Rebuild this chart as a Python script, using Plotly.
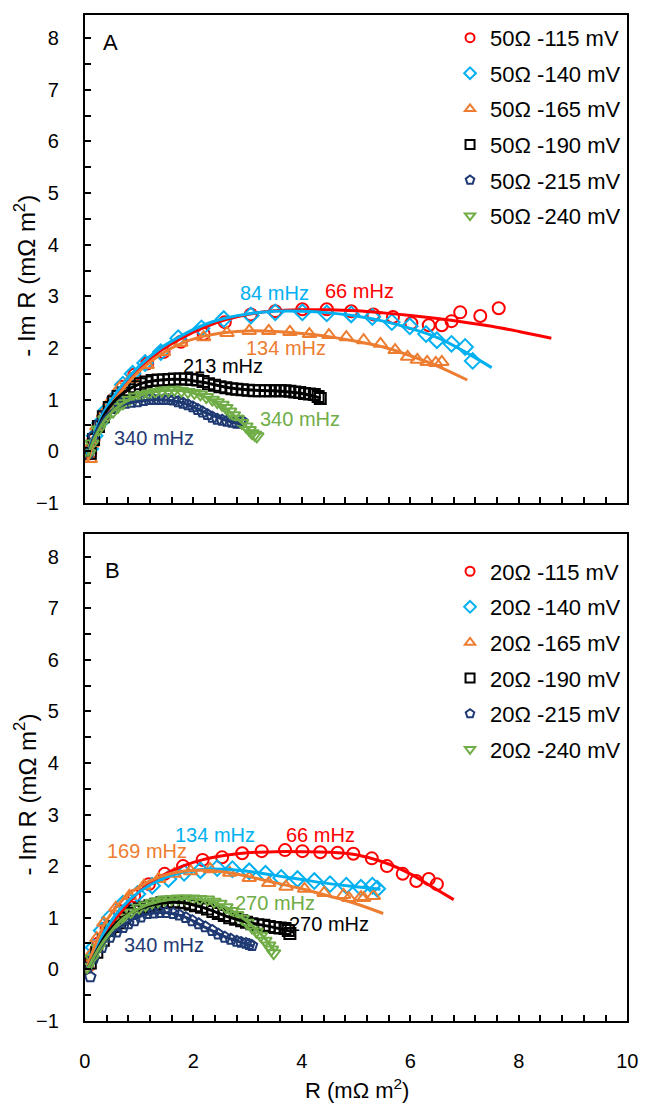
import plotly.graph_objects as go

# ---------------- Panel A (50 ohm) ----------------
A_labels = ["50Ω -115 mV", "50Ω -140 mV", "50Ω -165 mV", "50Ω -190 mV", "50Ω -215 mV", "50Ω -240 mV"]

A115_x = [0.10, 0.16, 0.25, 0.37, 0.52, 0.70, 0.91, 1.15, 1.45, 1.77, 2.19, 2.58, 3.06, 3.51, 4.01, 4.46, 4.91, 5.32, 5.68, 6.02, 6.34, 6.58, 6.76, 6.92, 7.29, 7.63]
A115_y = [-0.04, 0.23, 0.48, 0.73, 1.00, 1.25, 1.48, 1.70, 1.92, 2.12, 2.27, 2.50, 2.65, 2.71, 2.75, 2.75, 2.71, 2.65, 2.60, 2.48, 2.44, 2.44, 2.52, 2.69, 2.62, 2.77]
A115_fx = [0.05, 0.2, 0.4, 0.7, 1.0, 1.4, 1.8, 2.2, 2.6, 3.0, 3.5, 4.0, 4.5, 5.0, 5.5, 6.0, 6.5, 7.0, 7.5, 8.0, 8.6]
A115_fy = [-0.15, 0.35, 0.80, 1.25, 1.60, 1.95, 2.20, 2.40, 2.55, 2.65, 2.72, 2.74, 2.74, 2.72, 2.68, 2.63, 2.57, 2.50, 2.42, 2.32, 2.19]

A140_x = [0.10, 0.18, 0.28, 0.40, 0.56, 0.70, 0.88, 1.11, 1.40, 1.72, 2.15, 2.56, 3.06, 3.51, 4.01, 4.46, 4.91, 5.30, 5.66, 5.99, 6.29, 6.49, 6.76, 7.01, 7.15]
A140_y = [0.05, 0.30, 0.55, 0.80, 1.04, 1.29, 1.50, 1.71, 1.92, 2.19, 2.38, 2.56, 2.63, 2.69, 2.69, 2.67, 2.65, 2.60, 2.50, 2.42, 2.27, 2.15, 2.08, 2.02, 1.75]
A140_fx = [0.05, 0.2, 0.4, 0.7, 1.0, 1.4, 1.8, 2.2, 2.6, 3.0, 3.5, 4.0, 4.5, 5.0, 5.5, 6.0, 6.5, 7.0, 7.5]
A140_fy = [-0.10, 0.40, 0.85, 1.30, 1.65, 2.00, 2.25, 2.45, 2.58, 2.66, 2.71, 2.71, 2.68, 2.62, 2.52, 2.38, 2.20, 1.93, 1.62]

A165_x = [0.10, 0.13, 0.22, 0.34, 0.46, 0.64, 0.84, 1.15, 1.45, 1.77, 2.19, 2.62, 3.03, 3.39, 3.78, 4.14, 4.50, 4.82, 5.14, 5.45, 5.72, 5.95, 6.13, 6.31, 6.47, 6.58]
A165_y = [-0.15, 0.15, 0.48, 0.73, 0.96, 1.23, 1.40, 1.67, 1.92, 2.10, 2.21, 2.29, 2.33, 2.33, 2.31, 2.27, 2.25, 2.21, 2.15, 2.08, 1.96, 1.83, 1.77, 1.73, 1.71, 1.73]
A165_fx = [0.05, 0.2, 0.4, 0.7, 1.0, 1.4, 1.8, 2.2, 2.6, 3.0, 3.5, 4.0, 4.5, 5.0, 5.5, 6.0, 6.5, 7.05]
A165_fy = [-0.20, 0.30, 0.75, 1.20, 1.55, 1.88, 2.10, 2.23, 2.30, 2.33, 2.32, 2.28, 2.22, 2.13, 2.02, 1.85, 1.65, 1.38]

A190_x = [0.10, 0.16, 0.25, 0.34, 0.45, 0.53, 0.61, 0.72, 0.82, 0.92, 1.02, 1.13, 1.24, 1.35, 1.45, 1.55, 1.65, 1.76, 1.86, 1.97, 2.08, 2.18, 2.28, 2.39, 2.49, 2.60, 2.71, 2.80, 2.90, 3.01, 3.12, 3.22, 3.33, 3.42, 3.51, 3.60, 3.69, 3.78, 3.87, 3.96, 4.05, 4.14, 4.23, 4.30, 4.34]
A190_y = [-0.04, 0.23, 0.48, 0.67, 0.85, 0.96, 1.06, 1.13, 1.19, 1.25, 1.31, 1.34, 1.37, 1.38, 1.38, 1.39, 1.40, 1.40, 1.40, 1.39, 1.38, 1.35, 1.31, 1.28, 1.25, 1.23, 1.21, 1.20, 1.19, 1.18, 1.17, 1.17, 1.17, 1.17, 1.17, 1.17, 1.17, 1.16, 1.15, 1.14, 1.12, 1.11, 1.10, 1.06, 1.02]
A190_fx = [0.05, 0.2, 0.4, 0.7, 1.0, 1.4, 1.8, 2.2, 2.6, 3.0, 3.5, 4.0, 4.35]
A190_fy = [-0.10, 0.35, 0.78, 1.12, 1.30, 1.38, 1.39, 1.33, 1.24, 1.19, 1.17, 1.12, 1.03]

A215_x = [0.07, 0.16, 0.28, 0.40, 0.49, 0.57, 0.66, 0.75, 0.86, 0.97, 1.08, 1.18, 1.27, 1.36, 1.45, 1.54, 1.63, 1.72, 1.81, 1.90, 1.99, 2.08, 2.17, 2.26, 2.35, 2.44, 2.53, 2.62, 2.71, 2.80, 2.86, 2.90]
A215_y = [-0.04, 0.29, 0.54, 0.73, 0.83, 0.90, 0.92, 0.93, 0.95, 0.96, 0.98, 1.00, 1.00, 1.00, 1.00, 1.00, 0.99, 0.96, 0.93, 0.90, 0.86, 0.81, 0.76, 0.71, 0.66, 0.62, 0.60, 0.58, 0.56, 0.54, 0.55, 0.58]
A215_fx = [0.05, 0.2, 0.4, 0.7, 1.0, 1.4, 1.8, 2.2, 2.6, 2.9]
A215_fy = [-0.10, 0.35, 0.70, 0.90, 0.97, 1.00, 0.94, 0.76, 0.60, 0.52]

A240_x = [0.07, 0.13, 0.25, 0.37, 0.52, 0.61, 0.70, 0.82, 0.93, 1.05, 1.18, 1.30, 1.42, 1.54, 1.65, 1.78, 1.90, 2.02, 2.13, 2.24, 2.35, 2.44, 2.53, 2.60, 2.67, 2.74, 2.81, 2.89, 2.97, 3.03, 3.08, 3.13, 3.17]
A240_y = [-0.04, 0.15, 0.42, 0.62, 0.77, 0.86, 0.93, 1.00, 1.06, 1.09, 1.12, 1.15, 1.17, 1.18, 1.19, 1.17, 1.15, 1.13, 1.10, 1.05, 1.00, 0.95, 0.90, 0.84, 0.77, 0.70, 0.63, 0.55, 0.48, 0.41, 0.35, 0.32, 0.29]
A240_fx = [0.05, 0.2, 0.4, 0.7, 1.0, 1.4, 1.8, 2.2, 2.6, 2.9, 3.15]
A240_fy = [-0.10, 0.30, 0.65, 0.93, 1.08, 1.17, 1.17, 1.06, 0.82, 0.55, 0.30]

# ---------------- Panel B (20 ohm) ----------------
B_labels = ["20Ω -115 mV", "20Ω -140 mV", "20Ω -165 mV", "20Ω -190 mV", "20Ω -215 mV", "20Ω -240 mV"]

B115_x = [0.04, 0.13, 0.25, 0.40, 0.64, 0.91, 1.18, 1.47, 1.81, 2.17, 2.53, 2.90, 3.26, 3.69, 4.01, 4.34, 4.66, 4.95, 5.29, 5.57, 5.86, 6.11, 6.34, 6.49]
B115_y = [0.04, 0.23, 0.50, 0.80, 1.13, 1.42, 1.65, 1.85, 2.00, 2.12, 2.17, 2.25, 2.29, 2.31, 2.29, 2.27, 2.26, 2.24, 2.15, 2.00, 1.85, 1.71, 1.75, 1.65]
B115_fx = [0.05, 0.2, 0.4, 0.7, 1.0, 1.4, 1.8, 2.2, 2.6, 3.0, 3.5, 4.0, 4.5, 5.0, 5.5, 6.0, 6.4, 6.8]
B115_fy = [0.00, 0.35, 0.75, 1.15, 1.50, 1.80, 2.00, 2.13, 2.21, 2.26, 2.28, 2.28, 2.27, 2.22, 2.08, 1.85, 1.60, 1.35]

B140_x = [0.07, 0.16, 0.31, 0.46, 0.70, 0.97, 1.24, 1.54, 1.83, 2.13, 2.44, 2.72, 3.03, 3.33, 3.62, 3.92, 4.23, 4.52, 4.82, 5.09, 5.30, 5.39]
B140_y = [0.17, 0.42, 0.75, 1.00, 1.27, 1.46, 1.62, 1.75, 1.87, 1.92, 1.96, 1.94, 1.90, 1.85, 1.77, 1.75, 1.71, 1.65, 1.62, 1.58, 1.62, 1.56]
B140_fx = [0.05, 0.2, 0.4, 0.7, 1.0, 1.4, 1.8, 2.2, 2.6, 3.0, 3.5, 4.0, 4.5, 5.0, 5.45]
B140_fy = [0.00, 0.40, 0.80, 1.22, 1.50, 1.74, 1.88, 1.94, 1.94, 1.90, 1.82, 1.74, 1.66, 1.60, 1.55]

B165_x = [0.05, 0.12, 0.22, 0.35, 0.57, 0.82, 1.09, 1.36, 1.65, 1.95, 2.31, 2.67, 3.03, 3.39, 3.71, 4.05, 4.41, 4.77, 4.87, 5.09, 5.14, 5.32]
B165_y = [0.05, 0.30, 0.60, 0.90, 1.19, 1.42, 1.62, 1.75, 1.85, 1.90, 1.94, 1.87, 1.77, 1.67, 1.60, 1.56, 1.48, 1.44, 1.38, 1.40, 1.38, 1.42]
B165_fx = [0.05, 0.2, 0.4, 0.7, 1.0, 1.4, 1.8, 2.2, 2.6, 3.0, 3.5, 4.0, 4.5, 5.0, 5.5]
B165_fy = [0.05, 0.50, 0.95, 1.35, 1.60, 1.80, 1.90, 1.92, 1.88, 1.80, 1.68, 1.56, 1.42, 1.27, 1.08]

B190_x = [0.10, 0.22, 0.34, 0.46, 0.55, 0.64, 0.73, 0.82, 0.91, 1.00, 1.10, 1.20, 1.31, 1.42, 1.52, 1.63, 1.73, 1.83, 1.94, 2.04, 2.15, 2.26, 2.36, 2.46, 2.57, 2.67, 2.78, 2.89, 2.98, 3.08, 3.19, 3.30, 3.40, 3.51, 3.60, 3.69, 3.75, 3.78]
B190_y = [0.12, 0.33, 0.56, 0.75, 0.83, 0.90, 0.99, 1.08, 1.13, 1.17, 1.20, 1.23, 1.26, 1.29, 1.30, 1.31, 1.30, 1.29, 1.26, 1.23, 1.20, 1.17, 1.12, 1.08, 1.04, 1.00, 0.97, 0.94, 0.91, 0.88, 0.86, 0.85, 0.83, 0.81, 0.80, 0.79, 0.75, 0.69]
B190_fx = [0.05, 0.2, 0.4, 0.7, 1.0, 1.4, 1.8, 2.2, 2.6, 3.0, 3.4, 3.85]
B190_fy = [0.00, 0.32, 0.68, 1.00, 1.17, 1.28, 1.29, 1.19, 1.03, 0.91, 0.83, 0.72]

B215_x = [0.04, 0.10, 0.16, 0.31, 0.46, 0.58, 0.70, 0.80, 0.91, 1.03, 1.15, 1.27, 1.38, 1.50, 1.63, 1.74, 1.86, 1.98, 2.10, 2.22, 2.35, 2.46, 2.58, 2.69, 2.80, 2.88, 2.97, 3.03, 3.08]
B215_y = [0.02, -0.15, 0.21, 0.42, 0.62, 0.72, 0.81, 0.88, 0.94, 1.01, 1.08, 1.09, 1.10, 1.10, 1.08, 1.05, 1.00, 0.94, 0.88, 0.82, 0.75, 0.68, 0.62, 0.58, 0.54, 0.52, 0.50, 0.48, 0.46]
B215_fx = [0.05, 0.2, 0.4, 0.7, 1.0, 1.4, 1.8, 2.2, 2.6, 3.1]
B215_fy = [0.00, 0.28, 0.58, 0.85, 1.02, 1.10, 1.03, 0.82, 0.62, 0.45]

B240_x = [0.04, 0.13, 0.25, 0.37, 0.52, 0.61, 0.70, 0.85, 1.00, 1.12, 1.24, 1.35, 1.47, 1.60, 1.72, 1.85, 1.99, 2.12, 2.26, 2.38, 2.49, 2.60, 2.71, 2.80, 2.90, 2.99, 3.08, 3.16, 3.24, 3.32, 3.39, 3.44, 3.48]
B240_y = [0.04, 0.21, 0.42, 0.62, 0.81, 0.90, 1.00, 1.10, 1.19, 1.24, 1.29, 1.32, 1.35, 1.36, 1.37, 1.37, 1.37, 1.36, 1.35, 1.31, 1.27, 1.20, 1.13, 1.05, 0.98, 0.90, 0.81, 0.73, 0.65, 0.55, 0.46, 0.38, 0.31]
B240_fx = [0.05, 0.2, 0.4, 0.7, 1.0, 1.4, 1.8, 2.2, 2.6, 3.0, 3.3, 3.5]
B240_fy = [0.00, 0.30, 0.62, 0.98, 1.18, 1.32, 1.37, 1.34, 1.20, 0.92, 0.62, 0.35]

# ---------------- Frequency annotations ----------------
A_ann_text = ["84 mHz", "66 mHz", "134 mHz", "213 mHz", "340 mHz", "340 mHz"]
A_ann_x = [3.49, 5.06, 3.71, 2.54, 3.96, 1.27]
A_ann_y = [3.06, 3.11, 2.00, 1.65, 0.62, 0.25]
A_ann_series = [1, 0, 2, 3, 5, 4]

B_ann_text = ["169 mHz", "134 mHz", "66 mHz", "270 mHz", "270 mHz", "340 mHz"]
B_ann_x = [1.15, 2.40, 4.34, 3.51, 4.50, 1.45]
B_ann_y = [2.29, 2.60, 2.60, 1.29, 0.88, 0.46]
B_ann_series = [2, 1, 0, 5, 3, 4]

colors = ["#FF0000", "#00B0F0", "#ED7D31", "#000000", "#1F3A73", "#70AD47"]
symbols = ["circle-open", "diamond-open", "triangle-up-open", "square-open", "pentagon-open", "triangle-down-open"]
msizes = [12, 12, 12, 11, 11, 12]

FONT = "Liberation Sans, Arial, sans-serif"

A_data = [(A115_x, A115_y, A115_fx, A115_fy), (A140_x, A140_y, A140_fx, A140_fy),
          (A165_x, A165_y, A165_fx, A165_fy), (A190_x, A190_y, A190_fx, A190_fy),
          (A215_x, A215_y, A215_fx, A215_fy), (A240_x, A240_y, A240_fx, A240_fy)]
B_data = [(B115_x, B115_y, B115_fx, B115_fy), (B140_x, B140_y, B140_fx, B140_fy),
          (B165_x, B165_y, B165_fx, B165_fy), (B190_x, B190_y, B190_fx, B190_fy),
          (B215_x, B215_y, B215_fx, B215_fy), (B240_x, B240_y, B240_fx, B240_fy)]

fig = go.Figure()

def add_panel(data, labels, xa, ya, legend, prefix):
    for i, (x, y, fx, fy) in enumerate(data):
        fig.add_trace(go.Scatter(
            x=x, y=y, mode="markers", showlegend=False, xaxis=xa, yaxis=ya,
            marker=dict(symbol=symbols[i], size=msizes[i], color=colors[i],
                        line=dict(width=2, color=colors[i]))))
    for i, (x, y, fx, fy) in enumerate(data):
        fig.add_trace(go.Scatter(
            x=fx, y=fy, mode="lines", showlegend=False, xaxis=xa, yaxis=ya,
            line=dict(color=colors[i], width=3, shape="spline")))
    # legend entries (smaller symbols, as in the reference legend)
    for i in range(len(data)):
        fig.add_trace(go.Scatter(
            x=[None], y=[None], mode="markers", name=labels[i], xaxis=xa, yaxis=ya,
            legend=legend, legendgroup=prefix + str(i),
            marker=dict(symbol=symbols[i], size=9, color=colors[i],
                        line=dict(width=2, color=colors[i]))))

add_panel(A_data, A_labels, "x", "y", "legend", "A")
add_panel(B_data, B_labels, "x2", "y2", "legend2", "B")

annotations = []
for t, x, y, s in zip(A_ann_text, A_ann_x, A_ann_y, A_ann_series):
    annotations.append(dict(text=t, x=x, y=y, xref="x", yref="y", showarrow=False,
                            xanchor="center", yanchor="middle",
                            font=dict(family=FONT, size=20, color=colors[s])))
for t, x, y, s in zip(B_ann_text, B_ann_x, B_ann_y, B_ann_series):
    annotations.append(dict(text=t, x=x, y=y, xref="x2", yref="y2", showarrow=False,
                            xanchor="center", yanchor="middle",
                            font=dict(family=FONT, size=20, color=colors[s])))

H = 1104.0
W = 648.0
annotations += [
    dict(text="A", x=107 / W, y=1 - 43 / H, xref="paper", yref="paper", showarrow=False,
         xanchor="center", yanchor="middle", font=dict(family=FONT, size=22, color="black")),
    dict(text="B", x=109 / W, y=1 - 576 / H, xref="paper", yref="paper", showarrow=False,
         xanchor="center", yanchor="middle", font=dict(family=FONT, size=22, color="black")),
    dict(text="- Im R (mΩ m<sup>2</sup>)", x=20 / W, y=1 - 278 / H, xref="paper", yref="paper",
         showarrow=False, textangle=-90, xanchor="center", yanchor="middle",
         font=dict(family=FONT, size=24, color="black")),
    dict(text="- Im R (mΩ m<sup>2</sup>)", x=20 / W, y=1 - 802 / H, xref="paper", yref="paper",
         showarrow=False, textangle=-90, xanchor="center", yanchor="middle",
         font=dict(family=FONT, size=24, color="black")),
    dict(text="R (mΩ m<sup>2</sup>)", x=360 / W, y=1 - 1100 / H, xref="paper", yref="paper",
         showarrow=False, xanchor="center", yanchor="middle",
         font=dict(family=FONT, size=22, color="black")),
]

xdom = [81 / W, 638 / W]
xcommon = dict(range=[0, 10], dtick=2, tick0=0, ticks="inside", ticklen=6, tickwidth=1.5,
               tickcolor="black", showline=True, linecolor="black", linewidth=2, mirror=True,
               showgrid=False, zeroline=False, domain=xdom, ticklabeloverflow="allow",
               minor=dict(dtick=0.4, tick0=0, ticks="inside", ticklen=6, tickwidth=1.5, tickcolor="black", showgrid=False),
               tickfont=dict(family=FONT, size=20, color="black"), ticklabelstandoff=21)
ycommon = dict(range=[-1, 8.45], dtick=1, tick0=0, ticks="inside", ticklen=6, tickwidth=1.5,
               tickcolor="black", showline=True, linecolor="black", linewidth=2, mirror=True,
               showgrid=False, zeroline=False,
               minor=dict(dtick=0.5, tick0=0, ticks="inside", ticklen=6, tickwidth=1.5, tickcolor="black", showgrid=False),
               tickfont=dict(family=FONT, size=20, color="black"), ticklabelstandoff=20)

fig.update_layout(
    width=648, height=1104,
    margin=dict(l=0, r=0, t=0, b=0),
    paper_bgcolor="white", plot_bgcolor="white",
    font=dict(family=FONT, color="black"),
    xaxis=dict(**xcommon, anchor="y", showticklabels=False),
    yaxis=dict(**ycommon, anchor="x", domain=[1 - 508 / H, 1 - 15 / H]),
    xaxis2=dict(**xcommon, anchor="y2", showticklabels=True),
    yaxis2=dict(**ycommon, anchor="x2", domain=[1 - 1031 / H, 1 - 539 / H]),
    legend=dict(x=456 / W, y=1 - 17 / H, xanchor="left", yanchor="top", bgcolor="rgba(0,0,0,0)",
                font=dict(family=FONT, size=22, color="black"), tracegroupgap=4, itemwidth=30),
    legend2=dict(x=456 / W, y=1 - 556 / H, xanchor="left", yanchor="top", bgcolor="rgba(0,0,0,0)",
                 font=dict(family=FONT, size=22, color="black"), tracegroupgap=4, itemwidth=30),
    annotations=annotations,
    showlegend=True,
)

fig.write_html("out.html")
